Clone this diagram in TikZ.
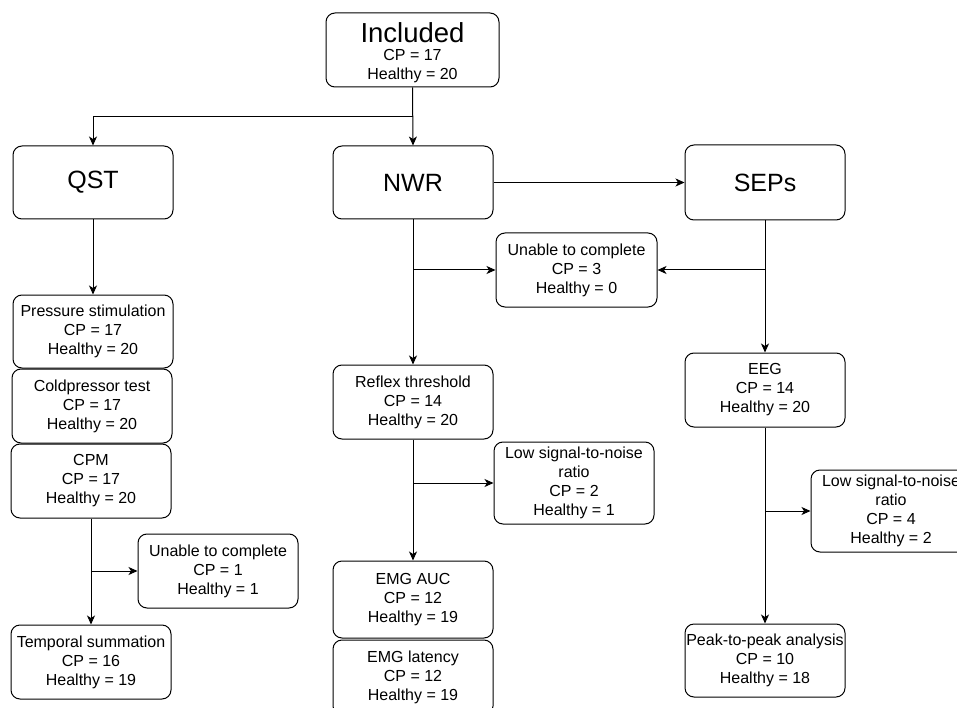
\documentclass[tikz,border=0pt]{standalone}
\usepackage{fontspec}
\setmainfont{Liberation Sans}
\usetikzlibrary{arrows.meta}
\tikzset{
  box/.style={draw=black, line width=1pt, rounded corners=9pt, fill=white,
    minimum width=160pt, minimum height=74pt, inner sep=0pt, align=center,
    font=\fontsize{16}{19}\selectfont},
  bigbox/.style={box, font=\fontsize{25}{28}\selectfont},
  txt/.style={inner sep=0pt, align=center, font=\fontsize{16}{19}\selectfont},
  conn/.style={draw=black, line width=1pt},
  arr/.style={conn, -{Stealth[length=9pt, width=8pt, inset=2.5pt]}}
}
\begin{document}
\begin{tikzpicture}[x=1pt, y=-1pt]
\clip (0,0) rectangle (957,708);
\fill[white] (0,0) rectangle (957,708);

% top
\node[box, minimum width=173pt] (inc) at (412.5,50) {};
\node[inner sep=0pt, font=\fontsize{27.5}{30}\selectfont] (inct) at (412.5,33) {Included};
\node[txt] (incs) at (412.5,66.5) {CP = 17\\Healthy = 20};

\node[bigbox, minimum height=73pt] (qst) at (93,182.5) {QST};
\node[bigbox, minimum height=73pt] (nwr) at (413,182.5) {NWR};
\node[bigbox, minimum height=75pt] (seps) at (765,182.5) {SEPs};

% left column
\node[box, minimum height=73pt] (press) at (93,331.5) {Pressure stimulation\\CP = 17\\Healthy = 20};
\node[box] (cold) at (92,406) {Coldpressor test\\CP = 17\\Healthy = 20};
\node[box] (cpm) at (91,481) {CPM\\CP = 17\\Healthy = 20};
\node[box] (un1) at (218,571) {Unable to complete\\CP = 1\\Healthy = 1};
\node[box] (temp) at (91,662) {Temporal summation\\CP = 16\\Healthy = 19};

% middle column
\node[box, minimum width=161pt] (un2) at (576.5,270) {Unable to complete\\CP = 3\\Healthy = 0};
\node[box] (refl) at (413,402) {Reflex threshold\\CP = 14\\Healthy = 20};
\node[box, minimum height=82pt] (low1) at (574,483) {Low signal-to-noise\\ratio\\CP = 2\\Healthy = 1};
\node[box, minimum height=77pt] (auc) at (413,599.5) {EMG AUC\\CP = 12\\Healthy = 19};
\node[box, minimum height=75pt] (lat) at (413,677.5) {EMG latency\\CP = 12\\Healthy = 19};

% right column
\node[box] (eeg) at (765,390) {EEG\\CP = 14\\Healthy = 20};
\node[box, minimum height=82pt] (low2) at (891,511) {Low signal-to-noise\\ratio\\CP = 4\\Healthy = 2};
\node[box, minimum height=73pt] (peak) at (765,660.5) {Peak-to-peak analysis\\CP = 10\\Healthy = 18};

% branch points
\coordinate (b0) at (413,117);
\coordinate (b1) at (91,571);
\coordinate (b2) at (413,270);
\coordinate (b3) at (765,270);
\coordinate (b4) at (413,483);
\coordinate (b5) at (765,511);

% connectors
\draw[arr] (inc.south) -- (nwr.north);
\draw[arr] (b0) -| (qst.north);
\draw[arr] (nwr.east) -- (seps.west);
\draw[arr] (qst.south) -- (press.north);
\draw[arr] (cpm.south) -- (temp.north);
\draw[arr] (b1) -- (un1.west);
\draw[arr] (nwr.south) -- (refl.north);
\draw[arr] (b2) -- (un2.west);
\draw[arr] (seps.south) -- (eeg.north);
\draw[arr] (b3) -- (un2.east);
\draw[arr] (refl.south) -- (auc.north);
\draw[arr] (b4) -- (low1.west);
\draw[arr] (eeg.south) -- (peak.north);
\draw[arr] (b5) -- (low2.west);
\end{tikzpicture}
\end{document}
